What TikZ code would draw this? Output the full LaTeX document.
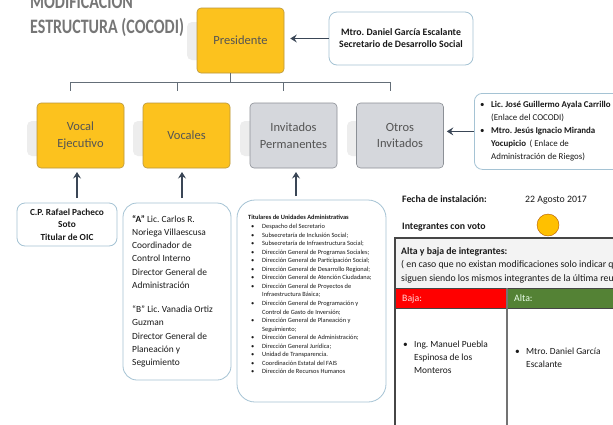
\documentclass[tikz,border=0pt]{standalone}
\usepackage{fontspec}
\setmainfont{Carlito}
\usetikzlibrary{arrows.meta}
\definecolor{ybox}{RGB}{252,194,30}
\definecolor{ydraw}{RGB}{185,150,60}
\definecolor{gfill}{RGB}{213,215,220}
\definecolor{gdraw}{RGB}{140,144,150}
\definecolor{txtg}{RGB}{84,84,84}
\definecolor{arrc}{RGB}{58,70,86}
\definecolor{linec}{RGB}{100,110,120}
\definecolor{wdraw}{RGB}{165,195,212}
\definecolor{titleg}{RGB}{118,118,118}
\definecolor{redc}{RGB}{255,0,0}
\definecolor{greenc}{RGB}{84,130,53}
\definecolor{hdrfill}{RGB}{243,243,243}
\definecolor{circf}{RGB}{255,192,0}
\definecolor{tblc}{RGB}{70,70,70}
\frenchspacing
\begin{document}
\begin{tikzpicture}[x=1pt,y=-1pt,
  every node/.style={inner sep=0pt},
  orgbox/.style={rounded corners=4pt, line width=0.6pt, minimum width=87pt, minimum height=65pt, align=center, text=txtg, font=\fontsize{12.5}{16.5}\selectfont},
  ybx/.style={orgbox, fill=ybox, draw=ydraw},
  gbx/.style={orgbox, fill=gfill, draw=gdraw},
  wbx/.style={draw=wdraw, fill=white, line width=0.8pt, rounded corners=8pt},
  shad/.style={fill=black!7, rounded corners=5pt},
  arr/.style={draw=arrc, line width=1.7pt, -{Stealth[length=6.5pt,width=8pt,inset=2.4pt]}},
  bus/.style={draw=linec, line width=0.7pt},
  ttl/.style={anchor=base west, text=titleg, font=\bfseries\fontsize{20.5}{20}\selectfont},
  lbl/.style={anchor=base west, text=black!90},
  tbl/.style={draw=tblc, line width=1.3pt},
  divl/.style={draw=black!55, line width=1.6pt}
]
\useasboundingbox (0,0) rectangle (613,424);
\fill[white] (0,0) rectangle (613,424);

% title
\node[ttl] (t1) at (30,8) {\scalebox{0.78}[1]{MODIFICACION}};
\node[ttl] (t2) at (30,33) {\scalebox{0.78}[1]{ESTRUCTURA (COCODI)}};

% shadows
\fill[shad] (187,22) rectangle (206,60);
\foreach \xx in {27,133,240,347} {\fill[shad] (\xx,121) rectangle (\xx+18,156);}

% boxes
\node[ybx] (pres) at (240.5,40.5) {Presidente};
\node[wbx, minimum width=144pt, minimum height=53pt, align=center, text=black!90, font=\bfseries\fontsize{9.8}{12}\selectfont] (mtro) at (401,38.5) {Mtro. Daniel García Escalante\\Secretario de Desarrollo Social};

\node[ybx] (ve) at (80.5,135.5) {Vocal\\Ejecutivo};
\node[ybx] (voc) at (186.5,135.5) {Vocales};
\node[gbx] (inv) at (293.5,135.5) {Invitados\\Permanentes};
\node[gbx] (otr) at (400,135.5) {Otros\\Invitados};

\node[wbx, minimum width=160pt, minimum height=76pt, anchor=north west] (lic) at (474,93) {};
\begin{scope}[font=\fontsize{8.9}{13}\selectfont]
\node[lbl] (lb1) at (480,107) {•};
\node[lbl] (l1) at (491,107) {\bfseries Lic. José Guillermo Ayala Carrillo};
\node[lbl] (l2) at (491,120) {(Enlace del COCODI)};
\node[lbl] (lb2) at (480,133) {•};
\node[lbl] (l3) at (491,133) {\bfseries Mtro. Jesús Ignacio Miranda};
\node[lbl] (l4) at (491,146) {\textbf{Yocupicio} \,( Enlace de};
\node[lbl] (l5) at (491,159) {Administración de Riegos)};
\end{scope}

% lower boxes
\node[wbx, minimum width=100pt, minimum height=43pt, align=center, text=black!90, font=\bfseries\fontsize{9.3}{12.5}\selectfont] (cp) at (67,224.5) {C.P. Rafael Pacheco\\Soto\\Titular de OIC};
\node[wbx, minimum width=108pt, minimum height=177pt, rounded corners=14pt] (vbox) at (177,291.5) {};
\node[wbx, minimum width=149pt, minimum height=202pt, rounded corners=18pt] (tbox) at (311.5,301) {};

\begin{scope}[font=\fontsize{9.4}{13}\selectfont]
\foreach \yy/\tt [count=\i] in {222/{\textbf{“A”} Lic. Carlos R.},235/Noriega Villaescusa,248/Coordinador de,261/Control Interno,275/Director General de,288/Administración,312/{“B” Lic. Vanadia Ortiz},325/Guzman,339/Director General de,352/Planeación y,365/Seguimiento}
  {\node[lbl] (v\i) at (132,\yy) {\tt};}
\end{scope}

\begin{scope}[font=\fontsize{6.4}{8}\selectfont]
\node[lbl, font=\bfseries\fontsize{6.4}{8}\selectfont] (tt) at (248,219) {Titulares de Unidades Administrativas};
\foreach \bb/\tt [count=\i] in {1/Despacho del Secretario,1/Subsecretaría de Inclusión Social;,1/Subsecretaría de Infraestructura Social;,1/Dirección General de Programas Sociales;,1/Dirección General de Participación Social;,1/Dirección General de Desarrollo Regional;,1/Dirección General de Atención Ciudadana;,1/Dirección General de Proyectos de,0/Infraestructura Básica;,1/Dirección General de Programación y,0/Control de Gasto de Inversión;,1/Dirección General de Planeación y,0/Seguimiento;,1/Dirección General de Administración;,1/Dirección General Jurídica;,1/Unidad de Transparencia.,1/Coordinación Estatal del FAIS,1/Dirección de Recursos Humanos}
  {\node[lbl] (ti\i) at (262,{228.5+8.55*(\i-1)}) {\tt};
   \ifnum\bb=1 \node[lbl] (tb\i) at (251,{228.5+8.55*(\i-1)}) {•};\fi}
\end{scope}

% connectors
\coordinate (bp) at (230,82);
\coordinate (bl) at (70,82);
\coordinate (br) at (390,82);
\coordinate (d1) at (70,91);
\coordinate (d2) at (177,91);
\coordinate (d3) at (283,91);
\coordinate (d4) at (390,91);
\draw[bus] (pres.south -| bp) -- (bp);
\draw[bus] (bl) -- (br);
\foreach \d in {d1,d2,d3,d4} {\draw[bus] (\d |- bl) -- (\d);}

\draw[arr, shorten >=6pt] (mtro.west) -- (mtro.west -| pres.east);
\draw[arr, shorten >=3pt] (lic.west) -- (lic.west -| otr.east);

\coordinate (u1b) at (77,198); \coordinate (u1t) at (77,172);
\coordinate (u2b) at (182,198); \coordinate (u2t) at (182,172);
\coordinate (u3b) at (296,196); \coordinate (u3t) at (296,172);
\draw[arr] (u1b) -- (u1t);
\draw[arr] (u2b) -- (u2t);
\draw[arr] (u3b) -- (u3t);

% right panel
\begin{scope}[font=\fontsize{9.8}{13}\selectfont]
\node[lbl] (fe) at (402,202) {\bfseries Fecha de instalación:};
\node[lbl] (fd) at (525,202) {22 Agosto 2017};
\node[lbl] (iv) at (402,229) {\bfseries Integrantes con voto};
\end{scope}
\node[circle, minimum size=22pt, fill=circf, draw=orange!70!black, line width=0.4pt] (dot) at (548,225) {};

\fill[hdrfill] (395,238) rectangle (625,288);
\fill[redc] (395,288) rectangle (507,308);
\fill[greenc] (507,288) rectangle (625,308);
\draw[tbl] (625,238) -- (395,238) -- (395,430);
\draw[draw=tblc, line width=0.8pt] (395,288) -- (625,288);
\draw[draw=tblc, line width=0.8pt] (395,308) -- (625,308);
\draw[divl] (507,288) -- (507,430);

\begin{scope}[font=\fontsize{9.8}{13}\selectfont]
\node[lbl] (h1) at (401,254) {\bfseries Alta y baja de integrantes:};
\node[lbl] (h2) at (401,267) {( en caso que no existan modificaciones solo indicar que se};
\node[lbl] (h3) at (401,281) {siguen siendo los mismos integrantes de la última reunión};
\node[lbl, text=red!15] (bj) at (402,301.5) {Baja:};
\node[lbl, text=green!8] (al) at (514,301.5) {Alta:};
\end{scope}
\begin{scope}[font=\fontsize{9.4}{13}\selectfont]
\node[lbl] (bb1) at (403,347) {•};
\node[lbl] (b1) at (414,347) {Ing. Manuel Puebla};
\node[lbl] (b2) at (414,360) {Espinosa de los};
\node[lbl] (b3) at (414,373) {Monteros};
\node[lbl] (ab1) at (515,354) {•};
\node[lbl] (a1) at (526,354) {Mtro. Daniel García};
\node[lbl] (a2) at (526,367) {Escalante};
\end{scope}
\end{tikzpicture}
\end{document}
